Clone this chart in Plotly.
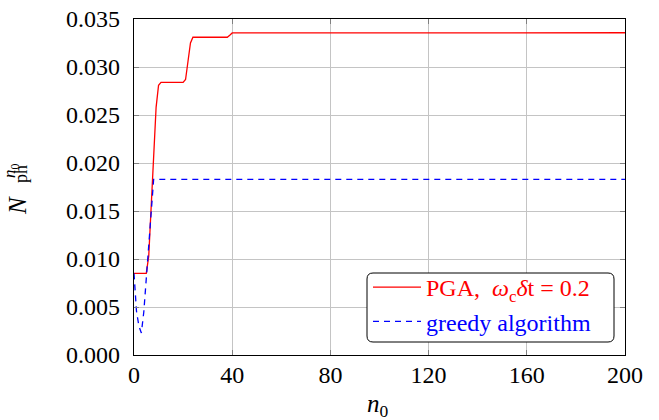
import plotly.graph_objects as go

# PGA curve (omega_c * dt = 0.2)
pga_n = [0, 5, 6, 7, 8, 9, 10, 11, 20, 21, 22, 23, 24, 38, 39, 40, 200]
pga_val = [0.0085, 0.0085, 0.0103, 0.0153, 0.0205, 0.0258, 0.0281, 0.0284,
           0.0284, 0.0287, 0.0306, 0.0325, 0.0331, 0.0331, 0.0333, 0.03355, 0.03357]

# greedy algorithm curve
greedy_n = [0, 1, 2, 3, 4, 5, 6, 7, 8, 200]
greedy_val = [0.0085, 0.0046, 0.0030, 0.0023, 0.0045, 0.0080, 0.0115, 0.0150, 0.0183, 0.0183]

x_ticks = [0, 40, 80, 120, 160, 200]
y_ticks = [0.000, 0.005, 0.010, 0.015, 0.020, 0.025, 0.030, 0.035]
y_tick_labels = ["0.000", "0.005", "0.010", "0.015", "0.020", "0.025", "0.030", "0.035"]

FONT = "Liberation Serif"
W, H = 659, 420
L, R, T, B = 134, 34, 19, 65
PW, PH = W - L - R, H - T - B

def px(x):
    return (x - L) / PW

def py(y):
    return (H - B - y) / PH

fig = go.Figure()
fig.add_trace(go.Scatter(
    x=pga_n, y=pga_val, mode="lines",
    line=dict(color="#ff0000", width=1.3),
    name="<span style='color:#ff0000'>PGA,  <i>ω</i><sub>c</sub><i>δ</i>t = 0.2</span>",
))
fig.add_trace(go.Scatter(
    x=greedy_n, y=greedy_val, mode="lines",
    line=dict(color="#0000ff", width=1.3, dash="6px,5px"),
    name="<span style='color:#0000ff'>greedy algorithm</span>",
))

axis_common = dict(
    showline=True, linecolor="black", linewidth=1.2, mirror="ticks",
    ticks="inside", ticklen=5, tickcolor="#808080", tickwidth=1,
    showgrid=True, gridcolor="#c4c4c4", gridwidth=1, zeroline=False,
    automargin=False,
    tickfont=dict(family=FONT, size=24, color="black"),
)

fig.update_xaxes(range=[0, 200], tickvals=x_ticks, ticklabelstandoff=-2, **axis_common)
fig.update_yaxes(range=[0, 0.035], tickvals=y_ticks, ticktext=y_tick_labels,
                 ticklabelstandoff=8, **axis_common)

# rounded legend box
x0, x1 = px(367), px(614)
y0, y1 = py(342), py(273)
rx, ry = 6 / PW, 6 / PH
path = (f"M {x0+rx},{y0} L {x1-rx},{y0} Q {x1},{y0} {x1},{y0+ry} "
        f"L {x1},{y1-ry} Q {x1},{y1} {x1-rx},{y1} L {x0+rx},{y1} "
        f"Q {x0},{y1} {x0},{y1-ry} L {x0},{y0+ry} Q {x0},{y0} {x0+rx},{y0} Z")
fig.add_shape(type="path", path=path, xref="paper", yref="paper",
              line=dict(color="black", width=1), fillcolor="white", layer="above")

annotations = [
    dict(text="<i>N</i>", x=px(17), y=py(206), textangle=-90,
         font=dict(family=FONT, size=25, color="black")),
    dict(text="<i>n</i><sub>0</sub>", x=px(11), y=py(171), textangle=-90,
         font=dict(family=FONT, size=17, color="black")),
    dict(text="ph", x=px(21), y=py(174), textangle=-90,
         font=dict(family=FONT, size=18, color="black")),
    dict(text="<i>n</i><sub>0</sub>", x=px(378), y=py(405),
         font=dict(family=FONT, size=25, color="black")),
]
for a in annotations:
    fig.add_annotation(xref="paper", yref="paper", showarrow=False,
                       xanchor="center", yanchor="middle", **a)

fig.update_layout(
    width=W, height=H,
    margin=dict(l=L, r=R, t=T, b=B, autoexpand=False),
    paper_bgcolor="white", plot_bgcolor="white",
    font=dict(family=FONT, color="black"),
    showlegend=True,
    legend=dict(x=px(368), y=py(344), xanchor="left", yanchor="bottom",
                bgcolor="rgba(0,0,0,0)", borderwidth=0,
                font=dict(family=FONT, size=24), itemwidth=48,
                tracegroupgap=0),
)

fig.write_html("out.html", config={"displayModeBar": False},
               post_script="document.body.style.margin='0';document.body.style.padding='0';")
